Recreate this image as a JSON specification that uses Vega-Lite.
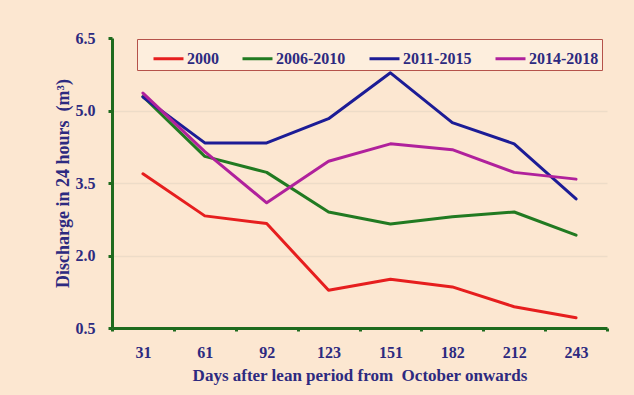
{
  "$schema": "https://vega.github.io/schema/vega-lite/v6.json",
  "width": 495,
  "height": 290,
  "autosize": {"type": "none"},
  "padding": {"left": 112, "top": 38, "right": 27, "bottom": 67},
  "background": "#fce7d1",
  "config": {"view": {"stroke": null}, "font": "Liberation Serif"},
  "data": {
    "values": [
      {"day": 31, "series": "2000", "value": 3.69},
      {"day": 61, "series": "2000", "value": 2.82},
      {"day": 92, "series": "2000", "value": 2.66},
      {"day": 123, "series": "2000", "value": 1.28},
      {"day": 151, "series": "2000", "value": 1.51},
      {"day": 182, "series": "2000", "value": 1.35},
      {"day": 212, "series": "2000", "value": 0.94},
      {"day": 243, "series": "2000", "value": 0.71},
      {"day": 31, "series": "2006-2010", "value": 5.29},
      {"day": 61, "series": "2006-2010", "value": 4.05},
      {"day": 92, "series": "2006-2010", "value": 3.72},
      {"day": 123, "series": "2006-2010", "value": 2.9},
      {"day": 151, "series": "2006-2010", "value": 2.65},
      {"day": 182, "series": "2006-2010", "value": 2.8},
      {"day": 212, "series": "2006-2010", "value": 2.9},
      {"day": 243, "series": "2006-2010", "value": 2.42},
      {"day": 31, "series": "2011-2015", "value": 5.28},
      {"day": 61, "series": "2011-2015", "value": 4.33},
      {"day": 92, "series": "2011-2015", "value": 4.33},
      {"day": 123, "series": "2011-2015", "value": 4.83},
      {"day": 151, "series": "2011-2015", "value": 5.78},
      {"day": 182, "series": "2011-2015", "value": 4.75},
      {"day": 212, "series": "2011-2015", "value": 4.31},
      {"day": 243, "series": "2011-2015", "value": 3.17},
      {"day": 31, "series": "2014-2018", "value": 5.36},
      {"day": 61, "series": "2014-2018", "value": 4.15},
      {"day": 92, "series": "2014-2018", "value": 3.09},
      {"day": 123, "series": "2014-2018", "value": 3.95},
      {"day": 151, "series": "2014-2018", "value": 4.31},
      {"day": 182, "series": "2014-2018", "value": 4.19},
      {"day": 212, "series": "2014-2018", "value": 3.72},
      {"day": 243, "series": "2014-2018", "value": 3.58}
    ]
  },
  "mark": {"type": "line", "strokeWidth": 3, "strokeJoin": "round", "strokeCap": "round"},
  "encoding": {
    "x": {
      "field": "day",
      "type": "ordinal",
      "scale": {"type": "band", "paddingInner": 0, "paddingOuter": 0, "domain": [31, 61, 92, 123, 151, 182, 212, 243]},
      "axis": {
        "title": "Days after lean period from\u00a0 October onwards",
        "labelAngle": 0,
        "tickBand": "extent",
        "domainColor": "#1e6b1e",
        "domainWidth": 3,
        "tickColor": "#1e6b1e",
        "tickWidth": 3,
        "tickSize": 3,
        "labelPadding": 13,
        "labelFont": "Liberation Serif",
        "labelFontSize": 16,
        "labelFontWeight": "bold",
        "labelColor": "#2d2a80",
        "titleFont": "Liberation Serif",
        "titleFontSize": 17,
        "titleFontWeight": "bold",
        "titleColor": "#2d2a80",
        "titlePadding": 7,
        "grid": false
      }
    },
    "y": {
      "field": "value",
      "type": "quantitative",
      "scale": {"domain": [0.5, 6.5], "nice": false, "zero": false},
      "axis": {
        "title": "Discharge in 24 hours\u00a0 (m³)",
        "values": [0.5, 2, 3.5, 5, 6.5],
        "format": ".1f",
        "domainColor": "#1e6b1e",
        "domainWidth": 3,
        "tickColor": "#1e6b1e",
        "tickWidth": 3,
        "tickSize": 4,
        "labelPadding": 13,
        "labelFont": "Liberation Serif",
        "labelFontSize": 16,
        "labelFontWeight": "bold",
        "labelColor": "#2d2a80",
        "titleFont": "Liberation Serif",
        "titleFontSize": 18,
        "titleFontWeight": "bold",
        "titleColor": "#2d2a80",
        "titlePadding": 3,
        "grid": true,
        "gridColor": "#eddcc8",
        "gridWidth": 1.5,
        "gridOpacity": {"condition": {"test": "datum.value === 6.5 || datum.value === 0.5", "value": 0}, "value": 1}
      }
    },
    "color": {
      "field": "series",
      "type": "nominal",
      "scale": {
        "domain": ["2000", "2006-2010", "2011-2015", "2014-2018"],
        "range": ["#e61e1e", "#217a21", "#1c1c96", "#b0219c"]
      },
      "legend": {
        "title": null,
        "orient": "none",
        "legendX": 25,
        "legendY": 1,
        "direction": "horizontal",
        "padding": 3,
        "strokeColor": "#b5524a",
        "fillColor": "#fdeedd",
        "symbolType": "stroke",
        "symbolSize": 900,
        "symbolStrokeWidth": 3,
        "symbolOffset": 12,
        "labelOffset": 2,
        "columnPadding": 10,
        "labelFont": "Liberation Serif",
        "labelFontSize": 16,
        "labelFontWeight": "bold",
        "labelColor": "#2d2a80"
      }
    }
  }
}
